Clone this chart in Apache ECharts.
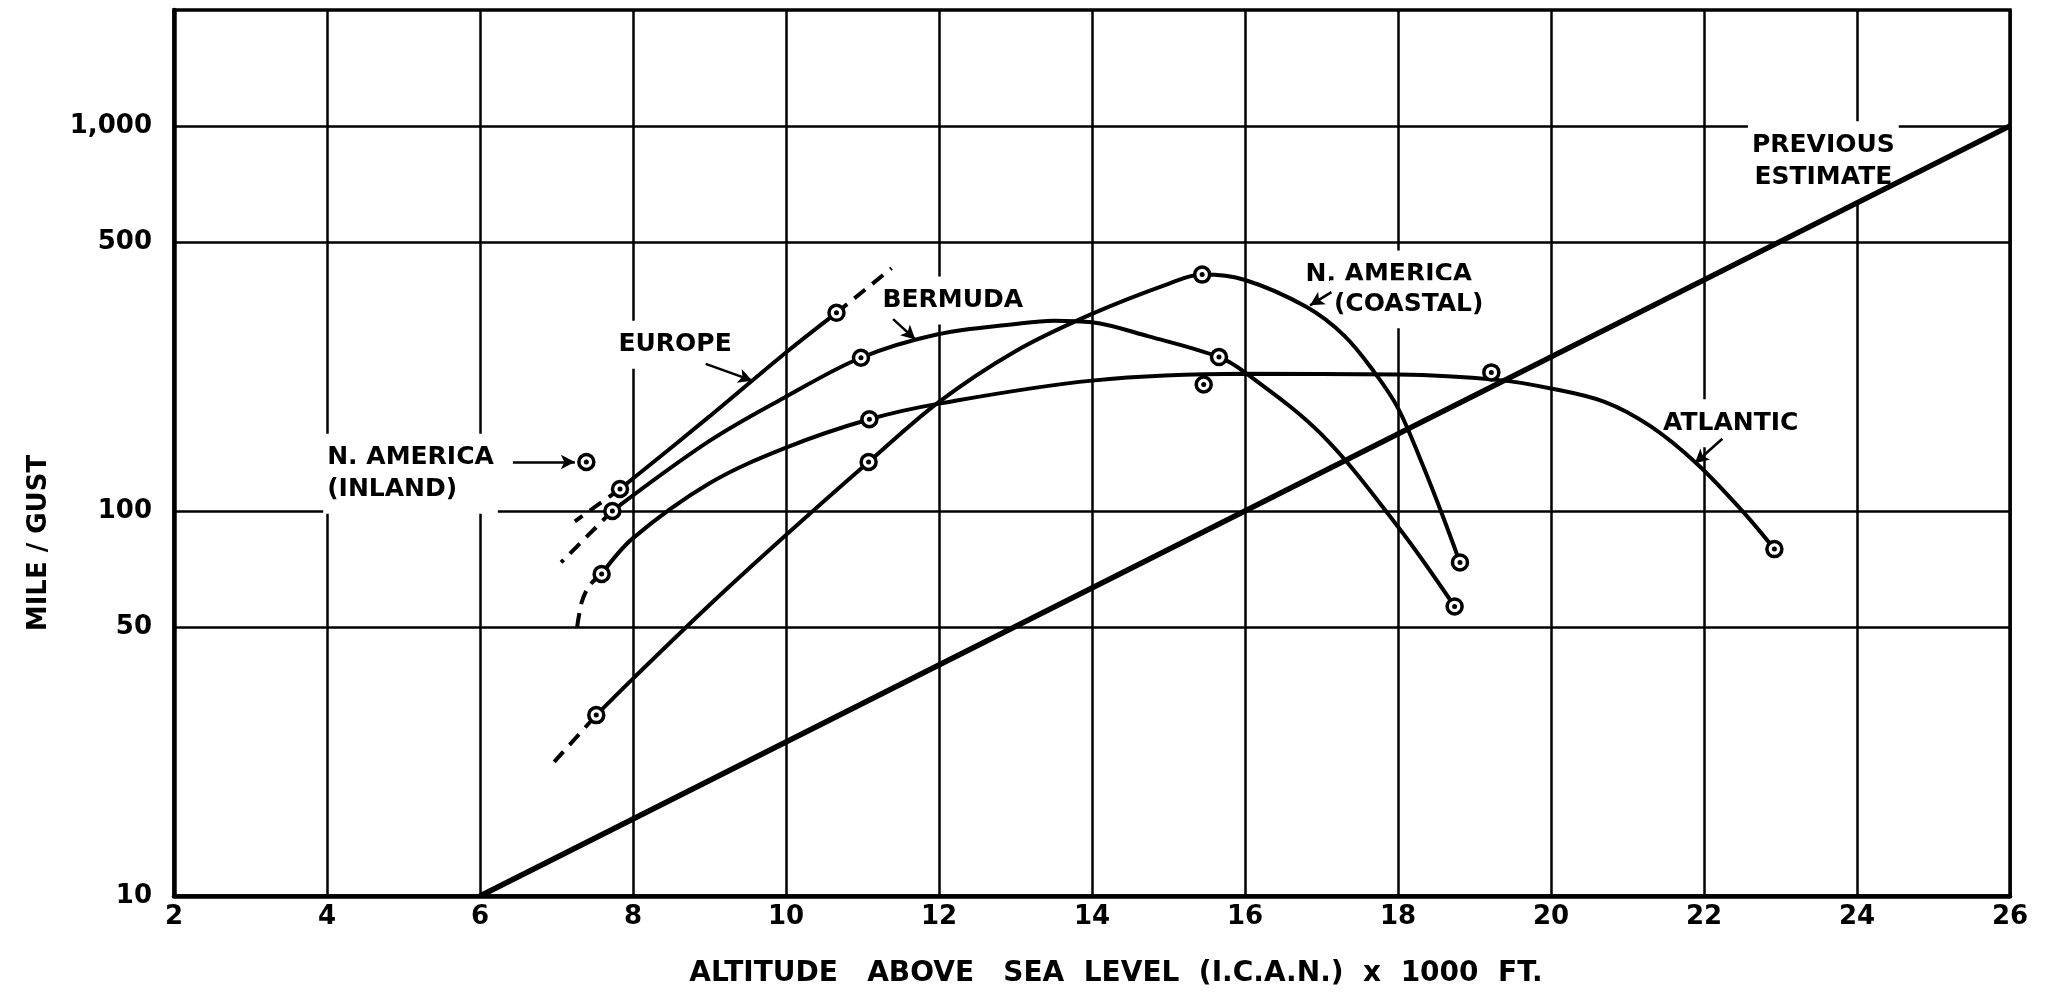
<!DOCTYPE html>
<html>
<head>
<meta charset="utf-8">
<script src="https://cdn.jsdelivr.net/npm/echarts@6/dist/echarts.min.js"></script>
<style>
  html, body { margin: 0; padding: 0; background: #fff; }
  #chart { width: 2051px; height: 998px; }
</style>
</head>
<body>
<div id="chart"></div>
<script>
// altitude in 1000 ft (x) against mile / gust (log y)
const yTicks = [10, 50, 100, 500, 1000]

const previousEstimate = [[6, 10], [26, 1000]]

const europeLine = [[7.83, 114], [9, 176], [10, 258], [10.66, 327]]
const europeDashHigh = [[10.66, 327], [11.38, 427]]
const europeDashLow = [[7.83, 114], [7.24, 94]]

const bermudaLine = [[7.73, 100], [9, 152], [10, 198], [10.98, 250], [12, 288], [13, 306], [13.5, 312],
  [14, 309], [14.74, 284], [15.66, 251], [16, 229], [17, 158], [18, 91], [18.74, 56.5]]
const bermudaDash = [[7.73, 100], [7.06, 73.5]]

const atlanticLine = [[7.59, 68.6], [8, 85], [9, 118], [10, 146], [11.09, 173], [12, 190], [14, 218],
  [16, 227], [18, 226], [19.3, 219], [20, 208], [20.7, 192], [21.3, 166], [21.9, 133], [22.5, 100],
  [22.92, 79.6]]
const atlanticDash = [[7.27, 50], [7.33, 58], [7.43, 64], [7.59, 68.6]]

const coastalLine = [[7.52, 29.5], [8, 36.7], [9, 57], [10, 86.6], [11.08, 134], [12, 192], [13, 260],
  [14, 325], [15, 389], [15.44, 411], [16, 398], [16.8, 339], [17.3, 285], [17.7, 228], [18, 185],
  [18.3, 135], [18.56, 100], [18.81, 73.5]]
const coastalDash = [[6.97, 22.3], [7.52, 29.5]]

const inlandPoints = [[7.39, 134]]
const europePoints = [[7.83, 114], [10.66, 327]]
const bermudaPoints = [[7.73, 100], [10.98, 250], [15.66, 251], [18.74, 56.5]]
const atlanticPoints = [[7.59, 68.6], [11.09, 173], [15.46, 213], [19.22, 229], [22.92, 79.6]]
const coastalPoints = [[7.52, 29.5], [11.08, 134], [15.44, 411], [18.81, 73.5]]

const noteText = ['N. AMERICA\n(INLAND)', 'EUROPE', 'BERMUDA', 'N. AMERICA', '(COASTAL)', 'ATLANTIC', 'PREVIOUS\nESTIMATE']
const noteX = [3.95, 8.55, 12.18, 17.88, 18.14, 22.35, 23.56]
const noteY = [125, 270, 352, 411, 344, 169, 809]
const noteAlign = ['left', 'center', 'center', 'center', 'center', 'center', 'center']

const arrows = [
  [[6.43, 134], [7.24, 134]],
  [[8.95, 241], [9.56, 218]],
  [[11.4, 315], [11.69, 279]],
  [[17.13, 370], [16.85, 342]],
  [[22.24, 154], [21.88, 133]]
]

const font = 'DejaVu Sans'

function curve(name, data, dashed, width) {
  return {
    name: name,
    type: 'line',
    data: data,
    smooth: dashed ? 0.3 : 0.35,
    showSymbol: false,
    symbol: 'none',
    silent: true,
    lineStyle: {
      color: '#000',
      width: width || 4,
      type: dashed ? [14, 9] : 'solid'
    },
    z: 3
  }
}

const observed = [].concat(inlandPoints, europePoints, bermudaPoints, atlanticPoints, coastalPoints)

const chart = echarts.init(document.getElementById('chart'))
chart.setOption({
  animation: false,
  backgroundColor: '#fff',
  textStyle: { fontFamily: font, color: '#000' },
  grid: {
    left: 174,
    right: 41,
    top: 10,
    bottom: 102,
    show: true,
    borderColor: '#000',
    borderWidth: 3.5
  },
  xAxis: {
    type: 'value',
    min: 2,
    max: 26,
    interval: 2,
    name: 'ALTITUDE   ABOVE   SEA  LEVEL  (I.C.A.N.)  x  1000  FT.',
    nameLocation: 'middle',
    nameGap: 64,
    nameTextStyle: { fontSize: 28, fontWeight: 'bold', fontFamily: font, color: '#000', padding: [0, 0, 0, 48] },
    axisLine: { lineStyle: { color: '#000', width: 4.5 } },
    axisTick: { show: false },
    axisLabel: { fontSize: 26, fontWeight: 'bold', color: '#000', margin: 8, fontFamily: font },
    splitLine: { lineStyle: { color: '#000', width: 2.5 } }
  },
  yAxis: {
    type: 'log',
    logBase: 10,
    min: 10,
    max: 2000,
    name: 'MILE / GUST',
    nameLocation: 'middle',
    nameRotate: 90,
    nameGap: 122,
    nameTextStyle: { fontSize: 26, fontWeight: 'bold', fontFamily: font, color: '#000', padding: [0, 180, 0, 0] },
    axisLine: { lineStyle: { color: '#000', width: 4.5 } },
    axisTick: { show: false, customValues: yTicks },
    axisLabel: {
      customValues: yTicks,
      fontSize: 26,
      fontWeight: 'bold',
      color: '#000',
      margin: 22,
      fontFamily: font,
      formatter: v => Math.round(v).toLocaleString('en-US')
    },
    splitLine: { lineStyle: { color: '#000', width: 2.5 } }
  },
  series: [
    curve('PREVIOUS ESTIMATE', previousEstimate, false, 5.5),
    curve('EUROPE', europeLine),
    curve('EUROPE ext', europeDashHigh, true),
    curve('EUROPE ext low', europeDashLow, true),
    curve('BERMUDA', bermudaLine),
    curve('BERMUDA ext', bermudaDash, true),
    curve('ATLANTIC', atlanticLine),
    curve('ATLANTIC ext', atlanticDash, true),
    curve('N. AMERICA (COASTAL)', coastalLine),
    curve('N. AMERICA (COASTAL) ext', coastalDash, true),
    {
      name: 'observed',
      type: 'scatter',
      data: observed,
      symbol: 'circle',
      symbolSize: 15,
      itemStyle: { color: '#fff', borderColor: '#000', borderWidth: 3.5, opacity: 1 },
      silent: true,
      z: 5
    },
    {
      name: 'observed dot',
      type: 'scatter',
      data: observed,
      symbol: 'circle',
      symbolSize: 5,
      itemStyle: { color: '#000', opacity: 1 },
      silent: true,
      z: 6
    },
    {
      name: 'notes',
      type: 'scatter',
      symbolSize: 0,
      silent: true,
      z: 2,
      itemStyle: { opacity: 1 },
      data: noteText.map((t, i) => ({
        value: [noteX[i], noteY[i]],
        label: { align: noteAlign[i], formatter: t }
      })),
      label: {
        show: true,
        position: 'inside',
        verticalAlign: 'middle',
        fontSize: 25,
        fontWeight: 'bold',
        lineHeight: 32,
        fontFamily: font,
        color: '#000',
        backgroundColor: '#fff',
        padding: [8, 4]
      },
      markLine: {
        silent: true,
        symbol: ['none', 'arrow'],
        symbolSize: [11, 14],
        label: { show: false },
        lineStyle: { color: '#000', width: 2.5, type: 'solid', opacity: 1 },
        data: arrows.map(a => [{ coord: a[0] }, { coord: a[1] }])
      }
    }
  ]
})
</script>
</body>
</html>
